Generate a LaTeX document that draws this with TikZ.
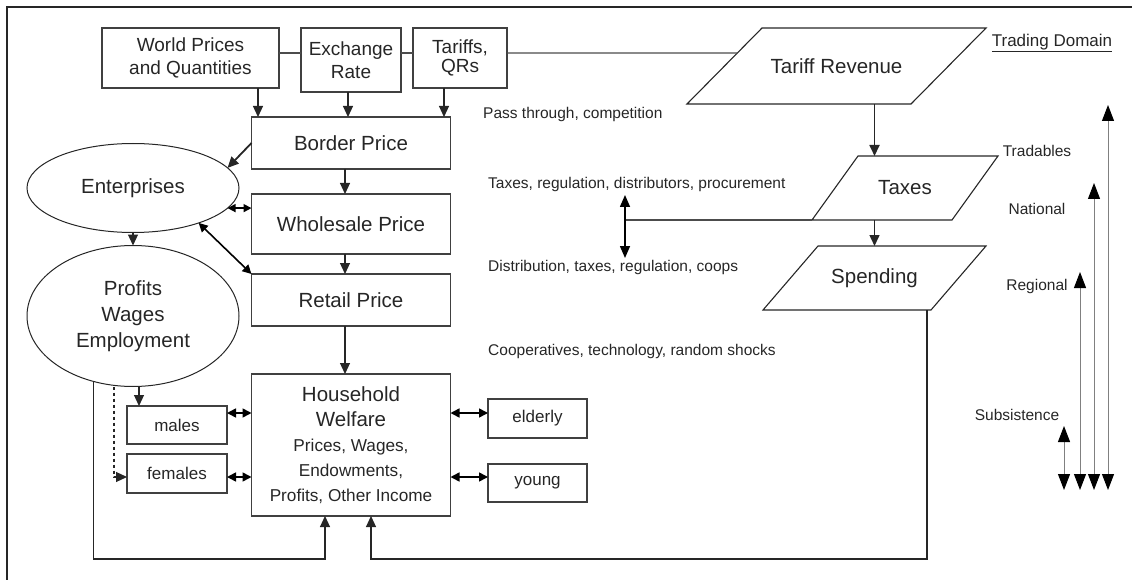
\documentclass[tikz,border=0pt]{standalone}
\usepackage{fontspec}
\setmainfont{Liberation Sans}
\usetikzlibrary{positioning, arrows.meta, shapes.geometric, calc}

\begin{document}
\begin{tikzpicture}[
            x=1pt, y=-1pt,
            input_block/.style={rectangle, draw=black!75, line width=1.1pt, inner sep=0pt, outer sep=0pt, align=center, text=black!85, font=\fontsize{19}{23}\selectfont},
            price_block/.style={rectangle, draw=black!75, line width=1.1pt, inner sep=0pt, outer sep=0pt, minimum width=199pt, align=center, text=black!85, font=\fontsize{20.5}{25}\selectfont},
            group_block/.style={rectangle, draw=black!75, line width=1.1pt, inner sep=0pt, outer sep=0pt, minimum width=100pt, minimum height=38pt, text=black!85, font=\fontsize{17}{20}\selectfont},
            sector_block/.style={ellipse, draw=black!85, line width=1pt, inner sep=0pt, outer sep=0pt, minimum width=212pt, align=center, text=black!85, font=\fontsize{20.5}{26}\selectfont},
            budget_block/.style={rectangle, inner sep=0pt, outer sep=0pt, text=black!85, font=\fontsize{20.5}{25}\selectfont},
            budget_edge/.style={draw=black!85, line width=1.1pt, line join=miter},
            side_note/.style={anchor=west, inner sep=0pt, text=black!85, font=\fontsize{15.5}{18}\selectfont},
            domain_label/.style={inner sep=0pt, text=black!85, font=\fontsize{15.5}{18}\selectfont},
            link_line/.style={draw=black!70, line width=1.1pt},
            arrow/.style={draw=black!85, line width=1.1pt, -{Triangle[length=11pt, width=10pt]}},
            twoway/.style={draw=black, line width=1.6pt, {Triangle[length=9pt, width=9pt]}-{Triangle[length=9pt, width=9pt]}},
            scale_arrow/.style={draw=black!50, line width=1pt, {Triangle[length=16pt, width=12pt, color=black]}-{Triangle[length=16pt, width=12pt, color=black]}}
        ]
            \useasboundingbox (0,0) rectangle (1132,580);
            \draw[line width=1.5pt, black!85] (7,580) |- (1132,7);

            % --- Trade inputs ---
            \node[input_block, minimum width=177pt, minimum height=60pt] (world) at (190.5,58) {World Prices\\and Quantities};
            \node[input_block, minimum width=100pt, minimum height=64pt] (exch) at (351,60) {Exchange\\Rate};
            \node[input_block, minimum width=94pt, minimum height=60pt, font=\fontsize{19}{19.5}\selectfont] (tariffs) at (460,58) {Tariffs,\\QRs};

            % --- Price chain ---
            \node[price_block, minimum height=52pt] (border) at (351,143) {Border Price};
            \node[price_block, minimum height=60pt, below=25pt of border] (wholesale) {Wholesale Price};
            \node[price_block, minimum height=52pt, below=20pt of wholesale] (retail) {Retail Price};
            \node[price_block, minimum height=142pt, below=48pt of retail, font=\fontsize{17.2}{25}\selectfont] (household) {{\fontsize{20.5}{25}\selectfont Household}\\{\fontsize{20.5}{25}\selectfont Welfare}\\Prices, Wages,\\Endowments,\\Profits, Other Income};

            % --- Enterprises and members ---
            \node[sector_block, minimum height=89pt] (firms) at (133,188) {Enterprises};
            \node[sector_block, minimum height=141pt] (earnings) at (133,316) {Profits\\Wages\\Employment};
            \node[group_block] (males) at (177,425) {males};
            \node[group_block, minimum height=39pt] (females) at (177,473.5) {females};
            \node[group_block, minimum width=99pt, minimum height=39pt] (elderly) at (537.5,418.5) {elderly};
            \node[group_block, minimum width=99pt] (young) at (537.5,483) {young};

            % --- Government (slanted boxes) ---
            \node[budget_block, minimum width=224pt, minimum height=76pt] (revenue) at (836.5,66) {Tariff Revenue};
            \node[budget_block, minimum width=140pt, minimum height=64pt] (taxes) at (905,188) {Taxes};
            \node[budget_block, minimum width=168pt, minimum height=64pt] (spending) at (874.5,278) {Spending};
            \foreach \name/\slant in {revenue/37.5, taxes/23, spending/27.5}
                \draw[budget_edge] ([xshift=-\slant pt]\name.south west) -- ([xshift=-\slant pt]\name.south east)
                    -- ([xshift=\slant pt]\name.north east) -- ([xshift=\slant pt]\name.north west) -- cycle;

            % --- Notes ---
            \node[side_note] (passthru) at (483,114) {Pass through, competition};
            \node[side_note] (wholesale_note) at (488,184) {Taxes, regulation, distributors, procurement};
            \node[side_note] (retail_note) at (488,267) {Distribution, taxes, regulation, coops};
            \node[side_note] (household_note) at (488,351) {Cooperatives, technology, random shocks};

            % --- Domains ---
            \node[domain_label, font=\fontsize{17}{20}\selectfont] (domain) at (1052,43) {\underline{Trading Domain}};
            \node[domain_label] (tradables) at (1037,151) {Tradables};
            \node[domain_label] (national) at (1037,209) {National};
            \node[domain_label] (regional) at (1037,286) {Regional};
            \node[domain_label] (subsistence) at (1017,415) {Subsistence};
            \foreach \x/\top in {1064/426, 1080/272, 1094/183, 1108/105}
                \draw[scale_arrow] (\x,490) -- (\x,\top);

            % --- Inputs to border price ---
            \coordinate (link) at (0,53);
            \coordinate (revenue_edge) at ($([xshift=-37.5pt]revenue.south west)!0.671!([xshift=37.5pt]revenue.north west)$);
            \draw[link_line] (world.east |- link) -- (exch.west |- link);
            \draw[link_line] (exch.east |- link) -- (tariffs.west |- link);
            \draw[link_line] (tariffs.east |- link) -- (revenue_edge);
            \coordinate (world_tap) at ([xshift=67.5pt]world.south);
            \coordinate (exch_tap) at ([xshift=-3pt]exch.south);
            \coordinate (tariffs_tap) at ([xshift=-16pt]tariffs.south);
            \draw[arrow] (world_tap) -- (world_tap |- border.north);
            \draw[arrow] (exch_tap) -- (exch_tap |- border.north);
            \draw[arrow] (tariffs_tap) -- (tariffs_tap |- border.north);

            % --- Down the price chain ---
            \coordinate (spine) at (345,0);
            \draw[arrow] (border.south -| spine) -- (wholesale.north -| spine);
            \draw[arrow] (wholesale.south -| spine) -- (retail.north -| spine);
            \draw[arrow] (retail.south -| spine) -- (household.north -| spine);

            % --- Enterprises ---
            \draw[arrow, line width=1.8pt] (border.west) -- (firms.12);
            \draw[twoway, {Triangle[length=8pt, width=8pt]}-{Triangle[length=8pt, width=8pt]}] (firms.-12) -- (firms.-12 -| wholesale.west);
            \draw[twoway] (firms.-28) -- (retail.north west);
            \draw[arrow] (firms.south) -- (earnings.north);
            \coordinate (males_tap) at ([xshift=6pt]earnings.south);
            \coordinate (females_tap) at ([xshift=-19pt]earnings.south);
            \draw[arrow] (males_tap) -- (males_tap |- males.north);

            % --- Household members ---
            \coordinate (upper) at (0,413);
            \coordinate (lower) at (0,477);
            \draw[arrow, dashed] (females_tap) |- (females.west |- lower);
            \draw[twoway] (males.east |- upper) -- (household.west |- upper);
            \draw[twoway] (females.east |- lower) -- (household.west |- lower);
            \draw[twoway] (household.east |- upper) -- (elderly.west |- upper);
            \draw[twoway] (household.east |- lower) -- (young.west |- lower);

            % --- Back into household welfare ---
            \coordinate (floor) at (0,559);
            \coordinate (hh_in_left) at ([xshift=-26pt]household.south);
            \coordinate (hh_in_right) at ([xshift=20pt]household.south);
            \coordinate (spend_out) at ([xshift=-31.5pt]spending.south east);
            \draw[arrow] (earnings.239) |- (hh_in_left |- floor) -- (hh_in_left);
            \draw[arrow] (spend_out) |- (hh_in_right |- floor) -- (hh_in_right);

            % --- Government flows ---
            \draw[arrow, line width=1.8pt] (revenue.south -| spending.north) -- (taxes.north -| spending.north);
            \draw[arrow, line width=1.5pt] (taxes.south -| spending.north) -- (spending.north);
            \coordinate (taxes_corner) at ([xshift=-23pt]taxes.south west);
            \coordinate (hub) at (625,220);
            \coordinate (hub_up) at (625,195);
            \coordinate (hub_down) at (625,258);
            \draw[link_line] (taxes_corner) -- (hub);
            \draw[twoway, {Triangle[length=12pt, width=10pt]}-{Triangle[length=12pt, width=10pt]}] (hub_up) -- (hub_down);

        \end{tikzpicture}
\end{document}
